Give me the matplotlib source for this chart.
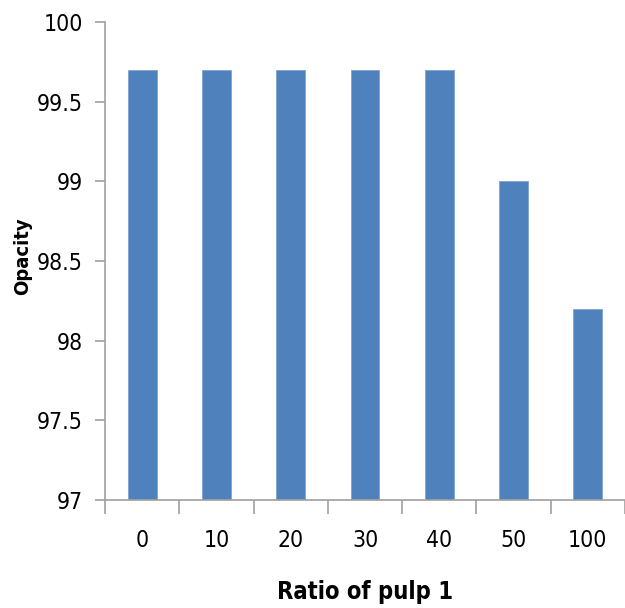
import numpy as np
import matplotlib.pyplot as plt
from matplotlib.ticker import FixedLocator

ratios = ['0', '10', '20', '30', '40', '50', '100']
opacity = [99.7, 99.7, 99.7, 99.7, 99.7, 99.0, 98.2]

plt.rcParams['font.family'] = ['DejaVu Sans']
plt.rcParams['font.stretch'] = 'condensed'

fig = plt.figure(figsize=(6.25, 6.08), dpi=100)
ax = fig.add_axes((0.168, 0.1776, 0.832, 0.7862))

x = np.arange(len(ratios))
ax.bar(x, np.array(opacity) - 97.0, bottom=97.0, width=0.39,
       color='#4F81BD', edgecolor='#7FA3D0', linewidth=0.6)

ax.set_xlim(-0.5, len(ratios) - 0.5)
ax.set_ylim(97, 100)
ax.set_yticks(np.arange(97, 100.01, 0.5))
ax.set_yticklabels(['97', '97.5', '98', '98.5', '99', '99.5', '100'])

# category labels centred, tick marks on the boundaries
ax.set_xticks(x)
ax.set_xticklabels(ratios)
ax.xaxis.set_minor_locator(FixedLocator(np.arange(-0.5, len(ratios), 1.0)))
ax.tick_params(axis='x', which='major', length=0, pad=21, labelsize=16.5)
ax.tick_params(axis='x', which='minor', length=10, width=1.2, color='#A0A0A0')
ax.tick_params(axis='y', length=7, width=1.2, color='#A0A0A0', pad=9, labelsize=16.5)

for side in ['top', 'right']:
    ax.spines[side].set_visible(False)
for side in ['left', 'bottom']:
    ax.spines[side].set_color('#A0A0A0')
    ax.spines[side].set_linewidth(1.2)

ax.set_xlabel('Ratio of pulp 1', fontsize=17, fontweight='bold')
ax.xaxis.set_label_coords(0.5, -0.168)
ax.set_ylabel('Opacity', fontsize=14.5, fontweight='bold')
ax.yaxis.set_label_coords(-0.14, 0.51)

fig.savefig('out.png', dpi=100)
